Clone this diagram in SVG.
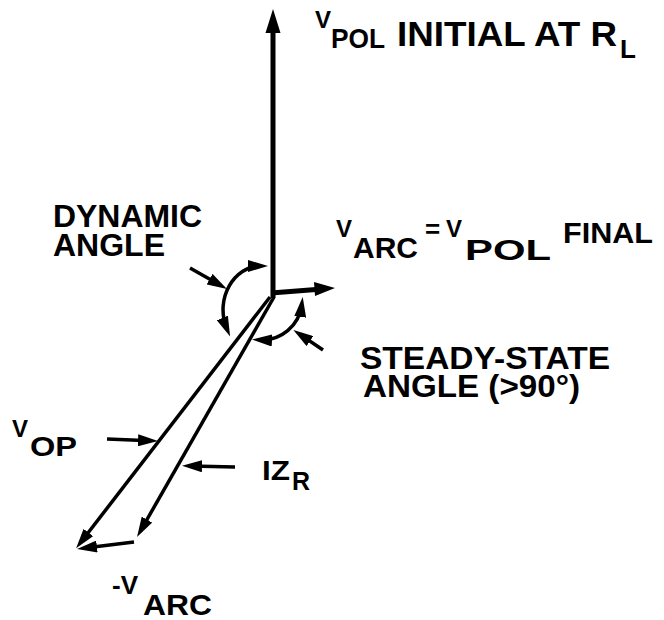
<svg xmlns="http://www.w3.org/2000/svg" width="664" height="620" viewBox="0 0 664 620">
<defs>
<style>
.t{font-family:"Liberation Sans",Arial,Helvetica,sans-serif;font-weight:bold;fill:#000}
.ln{stroke:#000;stroke-width:3.5;fill:none;stroke-linecap:butt}
.a{marker-end:url(#ah)}
.aa{marker-start:url(#ah);marker-end:url(#ah)}
</style>
<marker id="ah" viewBox="0 0 20 12" refX="12" refY="6" markerWidth="20" markerHeight="12" markerUnits="userSpaceOnUse" orient="auto-start-reverse">
<path d="M0,0 L20,6 L0,12 z" fill="#000"/>
</marker>
</defs>
<rect width="664" height="620" fill="#fff"/>
<g id="connectors">
<line x1="273" y1="298" x2="273" y2="30" stroke="#000" stroke-width="5"/>
<polygon points="273,9 265.5,33 280.5,33" fill="#000"/>
<line x1="271" y1="293" x2="316" y2="289.5" stroke="#000" stroke-width="5"/>
<polygon points="335,288 314,282 315,296" fill="#000"/>
<line class="ln a" x1="270" y1="297" x2="81" y2="542"/>
<line class="ln a" x1="274" y1="297" x2="141" y2="530"/>
<line class="ln a" x1="134" y1="542" x2="85" y2="548"/>
<line class="ln a" x1="190" y1="268" x2="220" y2="285"/>
<line class="ln a" x1="323" y1="350" x2="300" y2="334.4"/>
<line class="ln a" x1="107" y1="439" x2="150" y2="440.7"/>
<line class="ln a" x1="235" y1="467" x2="190" y2="466"/>
<path class="ln aa" d="M260,266 C235,266 214,298 227,329"/>
<path class="ln aa" d="M301.7,305 A40,40 0 0 1 260,339.9"/>
</g>
<g id="label-vpol-initial">
<text class="t" x="315" y="28" font-size="24">V</text>
<text class="t" x="331" y="48" font-size="28" textLength="54" lengthAdjust="spacingAndGlyphs">POL</text>
<text class="t" x="397" y="46" font-size="35" textLength="220" lengthAdjust="spacingAndGlyphs">INITIAL AT R</text>
<text class="t" x="620" y="58" font-size="26">L</text>
</g>
<g id="label-dynamic">
<text class="t" x="53" y="227" font-size="31" textLength="149" lengthAdjust="spacingAndGlyphs">DYNAMIC</text>
<text class="t" x="53" y="256" font-size="31" textLength="112" lengthAdjust="spacingAndGlyphs">ANGLE</text>
</g>
<g id="label-varc-final">
<text class="t" x="336" y="237" font-size="24">V</text>
<text class="t" x="353" y="258" font-size="29" textLength="65" lengthAdjust="spacingAndGlyphs">ARC</text>
<text class="t" x="425" y="238" font-size="26">=</text>
<text class="t" x="446" y="237" font-size="24">V</text>
<text class="t" x="465" y="260" font-size="29" textLength="86" lengthAdjust="spacingAndGlyphs">POL</text>
<text class="t" x="563" y="243" font-size="29" textLength="90" lengthAdjust="spacingAndGlyphs">FINAL</text>
</g>
<g id="label-steady">
<text class="t" x="360" y="369" font-size="32" textLength="250" lengthAdjust="spacingAndGlyphs">STEADY-STATE</text>
<text class="t" x="363" y="397" font-size="32" textLength="217" lengthAdjust="spacingAndGlyphs">ANGLE (&gt;90°)</text>
</g>
<g id="label-vop">
<text class="t" x="12" y="437" font-size="24">V</text>
<text class="t" x="30" y="456" font-size="27" textLength="47" lengthAdjust="spacingAndGlyphs">OP</text>
</g>
<g id="label-izr">
<text class="t" x="262" y="480" font-size="28" textLength="28" lengthAdjust="spacingAndGlyphs">IZ</text>
<text class="t" x="292" y="490" font-size="25">R</text>
</g>
<g id="label-varc-neg">
<text class="t" x="112" y="594" font-size="26">-V</text>
<text class="t" x="143" y="615" font-size="30" textLength="69" lengthAdjust="spacingAndGlyphs">ARC</text>
</g>
</svg>
